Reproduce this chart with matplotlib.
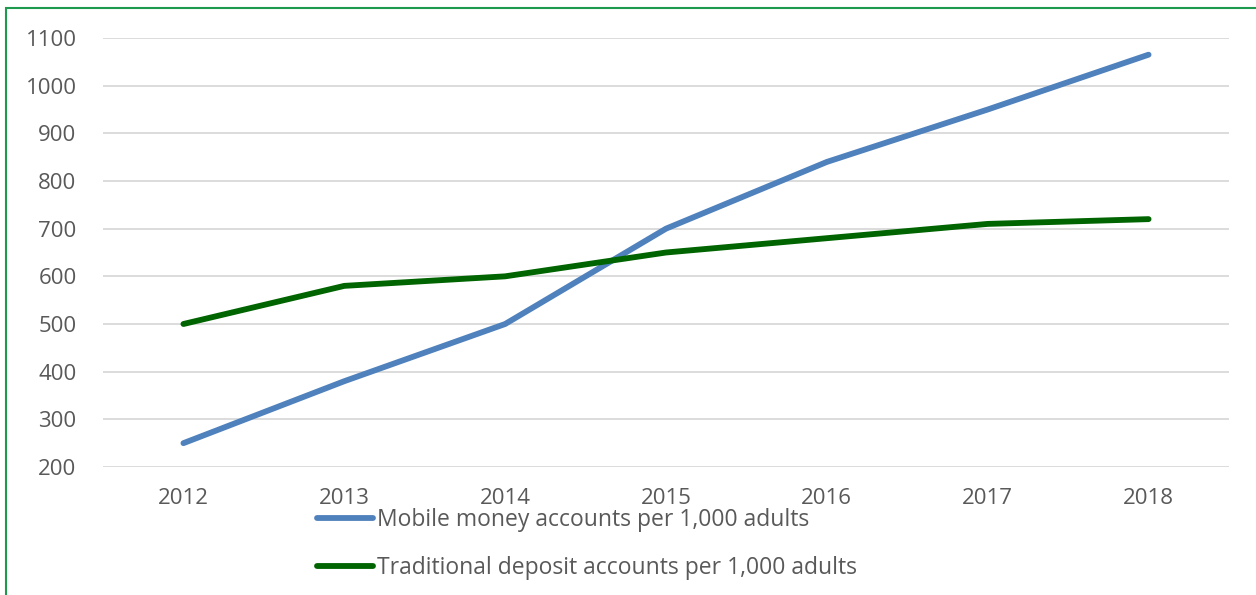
import matplotlib.pyplot as plt
from matplotlib.patches import Rectangle

years = [2012, 2013, 2014, 2015, 2016, 2017, 2018]
mobile = [250, 380, 500, 700, 840, 950, 1065]
traditional = [500, 580, 600, 650, 680, 710, 720]
yticks = [200, 300, 400, 500, 600, 700, 800, 900, 1000, 1100]

W, H = 1256, 595
plt.rcParams["font.family"] = ["Open Sans", "DejaVu Sans"]

fig = plt.figure(figsize=(W / 100, H / 100), dpi=100)
ax = fig.add_axes([103 / W, 1 - 467 / H, (1229 - 103) / W, (467 - 38) / H])

ax.plot(years, mobile, color="#4f81bd", lw=4.2, solid_capstyle="round",
        label="Mobile money accounts per 1,000 adults")
ax.plot(years, traditional, color="#006400", lw=4.2, solid_capstyle="round",
        label="Traditional deposit accounts per 1,000 adults")

ax.set_xlim(2011.5, 2018.5)
ax.set_ylim(200, 1100)
ax.set_yticks(yticks)
ax.set_xticks(years)
ax.grid(axis="y", color="#d9d9d9", lw=1.3)
ax.set_axisbelow(True)
for s in ax.spines.values():
    s.set_visible(False)
ax.tick_params(length=0, labelsize=16, labelcolor="#595959")
ax.tick_params(axis="y", pad=19)
ax.tick_params(axis="x", pad=15)

leg = fig.legend(loc="upper left", bbox_to_anchor=(317 / W, 1 - 508 / H),
                 frameon=False, fontsize=16.5, handlelength=2.45, handletextpad=0.15,
                 labelspacing=1.03, borderaxespad=0, borderpad=0)
for t in leg.get_texts():
    t.set_color("#595959")

fig.patches.append(Rectangle((6 / W, -0.1), 1.2, 1 - 8 / H + 0.1,
                             transform=fig.transFigure, fill=False,
                             edgecolor="#1e9a4e", lw=1.5))

fig.savefig("out.png", dpi=100)
